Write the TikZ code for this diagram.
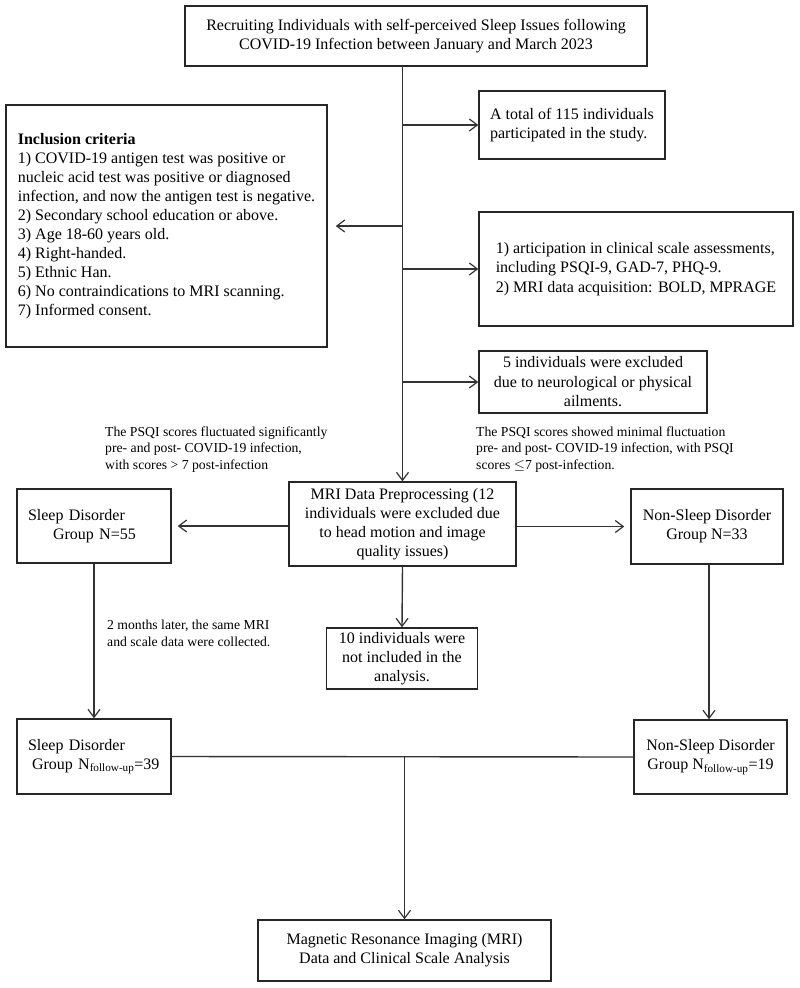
\documentclass[tikz,border=0pt]{standalone}
\usepackage{fontspec}
\setmainfont{Liberation Serif}
\usetikzlibrary{arrows.meta,calc}
\begin{document}
\begin{tikzpicture}[x=1pt,y=-1pt,
  box/.style={draw=black!85,line width=1.5pt,inner sep=0pt,font=\fontsize{16}{19}\selectfont,align=center},
  lbl/.style={inner sep=0pt,font=\fontsize{13.7}{16.5}\selectfont,align=left,anchor=west},
  ln/.style={draw=black!80,line width=1.4pt},
  arr/.style={ln,-{Straight Barb[length=8pt,width=12pt,line width=1.2pt]}}]
\useasboundingbox (0,0) rectangle (800,988);

\node[box,minimum width=462pt,minimum height=60pt,font=\fontsize{16}{18.5}\selectfont] (top) at (416,36)
  {Recruiting Individuals with self-perceived Sleep Issues following\\COVID-19 Infection between January and March 2023};

\node[box,minimum width=186pt,minimum height=68pt,align=left] (a115) at (572,125)
  {A total of 115 individuals\\participated in the study.};

\node[box,minimum width=321pt,minimum height=242pt,align=left] (incl) at (166.5,226)
  {\textbf{Inclusion criteria}\\
   1) COVID-19 antigen test was positive or\\
   nucleic acid test was positive or diagnosed\\
   infection, and now the antigen test is negative.\\
   2) Secondary school education or above.\\
   3) Age 18-60 years old.\\
   4) Right-handed.\\
   5) Ethnic Han.\\
   6) No contraindications to MRI scanning.\\
   7) Informed consent.};

\node[box,minimum width=314pt,minimum height=114pt,align=left,font=\fontsize{16}{19.5}\selectfont] (part) at (636,269)
  {1) articipation in clinical scale assessments,\\including PSQI-9, GAD-7, PHQ-9.\\2) MRI data acquisition: BOLD, MPRAGE};

\node[box,minimum width=228pt,minimum height=62pt,font=\fontsize{16}{19.5}\selectfont] (excl) at (593,382)
  {5 individuals were excluded\\due to neurological or physical\\ailments.};

\node[lbl] (lleft) at (105,449.5)
  {The PSQI scores fluctuated significantly\\pre- and post- COVID-19 infection,\\with scores > 7 post-infection};
\node[lbl] (lright) at (476,449.5)
  {The PSQI scores showed minimal fluctuation\\pre- and post- COVID-19 infection, with PSQI\\scores $\leq$7 post-infection.};

\node[box,minimum width=227pt,minimum height=84pt] (mri) at (402.5,524)
  {MRI Data Preprocessing (12\\individuals were excluded due\\to head motion and image\\quality issues)};

\node[box,minimum width=154pt,minimum height=74pt,align=left,text width=132pt,inner xsep=11pt] (sd) at (94,526)
  {Sleep Disorder\\\hspace*{25pt}Group N=55};

\node[box,minimum width=152pt,minimum height=75pt] (nsd) at (707,526.5)
  {Non-Sleep Disorder\\Group N=33};

\node[lbl] (lmonths) at (107,633.5)
  {2 months later, the same MRI\\and scale data were collected.};

\node[box,minimum width=151pt,minimum height=61pt] (ten) at (402,658.5)
  {10 individuals were\\not included in the\\analysis.};

\node[box,minimum width=154pt,minimum height=75pt,align=left,text width=132pt,inner xsep=11pt] (sdf) at (94,756.5)
  {Sleep Disorder\\\hspace*{4pt}Group N\textsubscript{follow-up}=39};

\node[box,minimum width=153pt,minimum height=74pt] (nsdf) at (710.5,757)
  {Non-Sleep Disorder\\Group N\textsubscript{follow-up}=19};

\node[box,minimum width=293pt,minimum height=61pt] (final) at (404.5,950.5)
  {Magnetic Resonance Imaging (MRI)\\Data and Clinical Scale Analysis};

% main spine
\draw[arr] (top.south -| mri.north) -- (mri.north);
\draw[arr] (mri.north |- a115.west) -- (a115.west);
\draw[arr] (mri.north |- incl.east) -- ([xshift=8pt]incl.east);
\draw[arr] (mri.north |- part.west) -- (part.west);
\draw[arr] (mri.north |- excl.west) -- (excl.west);

% groups
\draw[arr,shorten >=6pt] (mri.west |- sd.east) -- (sd.east);
\draw[arr,shorten >=6pt] (mri.east |- nsd.west) -- (nsd.west);
\draw[arr] (mri.south) -- (ten.north);
\draw[arr] (sd.south) -- (sdf.north);
\draw[arr] ([xshift=2pt]nsd.south) -- ([xshift=2pt]nsd.south |- nsdf.north);

% follow-up merge
\draw[ln] (sdf.east) -- (nsdf.west);
\draw[arr] (sdf.east -| final.north) -- (final.north);
\end{tikzpicture}
\end{document}
